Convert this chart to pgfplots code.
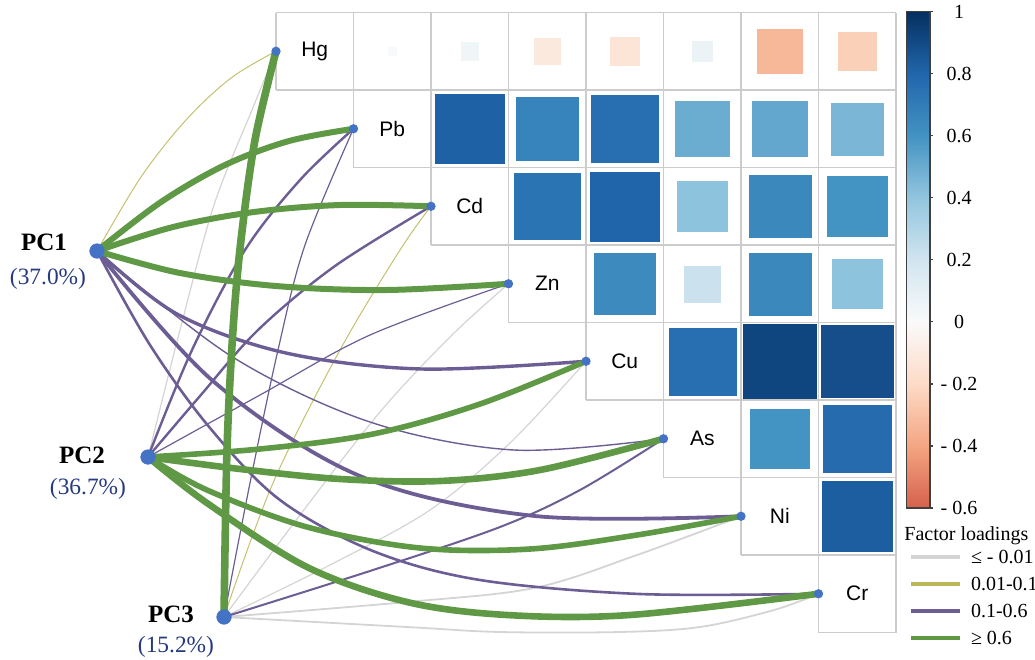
\documentclass[border=0pt]{standalone}
\usepackage{pgfplots}
\usepackage{pgfplotstable}
\pgfplotsset{compat=1.18}
\usepackage{fontspec}
\setmainfont{Liberation Serif}
\newfontfamily\arialf{Liberation Sans}

\definecolor{lgreen}{RGB}{95,153,70}
\definecolor{lpurple}{RGB}{108,94,148}
\definecolor{lgray}{RGB}{212,212,212}
\definecolor{lolive}{RGB}{196,192,110}
\definecolor{legolive}{RGB}{186,182,90}
\definecolor{nodeblue}{RGB}{68,114,196}
\definecolor{gridgray}{RGB}{204,204,204}
\definecolor{pctblue}{RGB}{38,58,128}

\pgfplotsset{colormap={rdbu}{rgb255=(214,96,77) rgb255=(244,165,130) rgb255=(253,219,199) rgb255=(250,250,250) rgb255=(209,229,240) rgb255=(146,197,222) rgb255=(67,147,195) rgb255=(33,102,172) rgb255=(5,48,97)}}

% correlation squares: cell centre (x,y) in pixels, correlation r
\pgfplotstableread{
x y r
392.25 51.25 0.01
469.75 51.25 0.05
547.25 51.25 -0.11
624.75 51.25 -0.14
702.25 51.25 0.07
779.75 51.25 -0.33
857.25 51.25 -0.24
469.75 128.75 0.82
547.25 128.75 0.67
624.75 128.75 0.76
702.25 128.75 0.50
779.75 128.75 0.52
857.25 128.75 0.46
547.25 206.25 0.74
624.75 206.25 0.81
702.25 206.25 0.41
779.75 206.25 0.65
857.25 206.25 0.60
624.75 283.75 0.64
702.25 283.75 0.22
779.75 283.75 0.65
857.25 283.75 0.41
702.25 361.25 0.76
779.75 361.25 0.92
857.25 361.25 0.89
779.75 438.75 0.60
857.25 438.75 0.78
857.25 516.25 0.83
}\squares

\pgfplotsset{
  cv/.style={smooth, tension=0.55, forget plot, line cap=round, line join=round},
  gl/.style={gridgray, line width=0.7bp, forget plot},
}

\begin{document}
\begin{tikzpicture}
\begin{axis}[
  at={(0,0)}, anchor=south west,
  scale only axis, width=517.5bp, height=330bp,
  xmin=0, xmax=1035, ymin=0, ymax=660, y dir=reverse,
  hide axis, clip=false,
  colormap name=rdbu, point meta min=-0.6, point meta max=1,
  legend image code/.code={\draw[#1, line width=2bp] (0bp,0bp) -- (24.5bp,0bp);},
  legend style={at={(axis cs:909,545)}, anchor=north west, draw=none, fill=none,
    inner sep=0pt, outer sep=0pt, row sep=1.5bp, column sep=4.5bp,
    font=\fontsize{10bp}{12bp}\selectfont,
    cells={anchor=west},
    nodes={inner sep=0pt, text height=9.4bp, text depth=2.6bp}},
  legend cell align=left,
]
% legend
\addlegendimage{lgray}
\addlegendentry{≤ - 0.01}
\addlegendimage{legolive}
\addlegendentry{0.01-0.1}
\addlegendimage{lpurple}
\addlegendentry{0.1-0.6}
\addlegendimage{lgreen}
\addlegendentry{≥ 0.6}

% grid of the triangle
\addplot[gl] coordinates {(276,12.5) (896,12.5)};
\addplot[gl] coordinates {(276,90) (896,90)};
\addplot[gl] coordinates {(353.5,167.5) (896,167.5)};
\addplot[gl] coordinates {(431,245) (896,245)};
\addplot[gl] coordinates {(508.5,322.5) (896,322.5)};
\addplot[gl] coordinates {(586,400) (896,400)};
\addplot[gl] coordinates {(663.5,477.5) (896,477.5)};
\addplot[gl] coordinates {(741,555) (896,555)};
\addplot[gl] coordinates {(818.5,632.5) (896,632.5)};
\addplot[gl] coordinates {(276,12.5) (276,90)};
\addplot[gl] coordinates {(353.5,12.5) (353.5,167.5)};
\addplot[gl] coordinates {(431,12.5) (431,245)};
\addplot[gl] coordinates {(508.5,12.5) (508.5,322.5)};
\addplot[gl] coordinates {(586,12.5) (586,400)};
\addplot[gl] coordinates {(663.5,12.5) (663.5,477.5)};
\addplot[gl] coordinates {(741,12.5) (741,555)};
\addplot[gl] coordinates {(818.5,12.5) (818.5,632.5)};
\addplot[gl] coordinates {(896,12.5) (896,632.5)};

% squares
\addplot[scatter, only marks, mark=square*, forget plot, point meta=explicit,
  scatter/use mapped color={draw=mapped color, fill=mapped color},
  mark options={line width=0.2bp},
  visualization depends on={19.2*sqrt(abs(\thisrow{r})) \as \msz},
  scatter/@pre marker code/.append style={/tikz/mark size=\msz bp}]
  table[x=x, y=y, meta=r] {\squares};

% gray links (<= -0.01)
\addplot[cv, lgray, line width=0.6bp] coordinates {(148,457) (180,330) (214,205) (252,110) (276,51.25)};
\addplot[cv, lgray, line width=0.6bp] coordinates {(224,617) (300,515) (380,412) (450,337) (508.5,283.75)};
\addplot[cv, lgray, line width=0.6bp] coordinates {(224,617) (330,565) (430,510) (510,443) (586,361.25)};
\addplot[cv, lgray, line width=0.9bp] coordinates {(224,617) (407,602) (534,588) (637,555) (741,516.25)};
\addplot[cv, lgray, line width=0.9bp] coordinates {(224,617) (407,627) (500,632) (620,632) (700,627) (774,610) (818.5,593.75)};
% olive links
\addplot[cv, lolive, line width=0.5bp] coordinates {(97,251) (141,177) (186,120) (231,78) (276,51.25)};
\addplot[cv, lolive, line width=0.5bp] coordinates {(224,617) (273,483) (340,350) (400,250) (431,206.25)};
% purple links
\addplot[cv, lpurple, line width=1.7bp] coordinates {(97,251) (177,314) (286,353) (422,369) (586,361.25)};
\addplot[cv, lpurple, line width=0.7bp] coordinates {(97,251) (231,356) (370,422) (514,450) (663.5,438.75)};
\addplot[cv, lpurple, line width=1.9bp] coordinates {(97,251) (213,381) (360,476) (535,516) (741,516.25)};
\addplot[cv, lpurple, line width=1.3bp] coordinates {(97,251) (150,345) (210,428) (280,500) (373,551) (480,580) (640,594) (818.5,593.75)};
\addplot[cv, lpurple, line width=1.2bp] coordinates {(148,457) (192,350) (245,250) (300,180) (353.5,128.75)};
\addplot[cv, lpurple, line width=1.2bp] coordinates {(148,457) (200,396) (258,330) (335,266) (431,206.25)};
\addplot[cv, lpurple, line width=0.6bp] coordinates {(148,457) (260,395) (370,335) (508.5,283.75)};
\addplot[cv, lpurple, line width=0.6bp] coordinates {(224,617) (250,483) (278,350) (305,245) (353.5,128.75)};
\addplot[cv, lpurple, line width=1.0bp] coordinates {(224,617) (373,570) (500,527) (580,490) (663.5,438.75)};
% green links
\addplot[cv, lgreen, line width=3bp] coordinates {(97,251) (161,202) (225,165) (289,141) (353.5,128.75)};
\addplot[cv, lgreen, line width=3bp] coordinates {(97,251) (173,227) (254,212) (340,205) (431,206.25)};
\addplot[cv, lgreen, line width=3bp] coordinates {(97,251) (180,273) (276,286) (386,290) (508.5,283.75)};
\addplot[cv, lgreen, line width=2.8bp] coordinates {(148,457) (260,449) (373,434) (480,404) (586,361.25)};
\addplot[cv, lgreen, line width=3.3bp] coordinates {(148,457) (240,469) (340,479) (440,481) (540,470) (663.5,438.75)};
\addplot[cv, lgreen, line width=2.8bp] coordinates {(148,457) (207,490) (307,527) (420,548) (530,549) (637,535) (741,516.25)};
\addplot[cv, lgreen, line width=3.3bp] coordinates {(148,457) (207,503) (307,567) (407,602) (507,615) (630,615) (818.5,593.75)};
\addplot[cv, lgreen, line width=3.8bp] coordinates {(224,617) (227,450) (233,330) (241,240) (255,140) (276,51.25)};

% nodes
\addplot[only marks, mark=*, mark size=2.1bp, nodeblue, forget plot] coordinates {(276,51.25) (353.5,128.75) (431,206.25) (508.5,283.75) (586,361.25) (663.5,438.75) (741,516.25) (818.5,593.75)};
\addplot[only marks, mark=*, mark size=3.6bp, nodeblue, forget plot] coordinates {(97,251) (148,457) (224,617)};

% element labels
\begin{scope}[every node/.style={font=\arialf\fontsize{10.5bp}{12bp}\selectfont}]
\node at (axis cs:314.75,51.25) {Hg};
\node at (axis cs:392.25,128.75) {Pb};
\node at (axis cs:469.75,206.25) {Cd};
\node at (axis cs:547.25,283.75) {Zn};
\node at (axis cs:624.75,361.25) {Cu};
\node at (axis cs:702.25,438.75) {As};
\node at (axis cs:779.75,516.25) {Ni};
\node at (axis cs:857.25,593.75) {Cr};
\end{scope}

% PC labels
\node[font=\bfseries\fontsize{12.5bp}{14bp}\selectfont] at (axis cs:44,242) {PC1};
\node[font=\fontsize{11.7bp}{14bp}\selectfont, text=pctblue] at (axis cs:48,279) {(37.0\%)};
\node[font=\bfseries\fontsize{12.5bp}{14bp}\selectfont] at (axis cs:82,455) {PC2};
\node[font=\fontsize{11.7bp}{14bp}\selectfont, text=pctblue] at (axis cs:88,489) {(36.7\%)};
\node[font=\bfseries\fontsize{12.5bp}{14bp}\selectfont] at (axis cs:171,614) {PC3};
\node[font=\fontsize{11.7bp}{14bp}\selectfont, text=pctblue] at (axis cs:176,647) {(15.2\%)};

\node[anchor=west, inner sep=0pt, font=\fontsize{10bp}{12bp}\selectfont] at (axis cs:904,536) {Factor loadings};
\end{axis}

% colour bar
\begin{axis}[
  at={(453.35bp,76bp)}, anchor=south west,
  scale only axis, width=11.65bp, height=248.15bp,
  xmin=0, xmax=1, ymin=-0.6, ymax=1,
  colormap name=rdbu, point meta min=-0.6, point meta max=1,
  xtick=\empty,
  ytick={-0.6,-0.4,-0.2,0,0.2,0.4,0.6,0.8,1},
  yticklabels={- 0.6,- 0.4,- 0.2,0,0.2,0.4,0.6,0.8,1},
  ytick pos=right, yticklabel pos=right,
  tick align=outside, major tick length=1.5bp,
  every tick/.style={draw=black!75, line width=0.6bp},
  axis line style={draw=black!75, line width=0.7bp},
  yticklabel style={font=\fontsize{10bp}{12bp}\selectfont, anchor=center, xshift=13bp},
  axis on top,
]
\addplot[surf, shader=interp, mesh/rows=2, point meta=y] coordinates {(0,-0.6) (1,-0.6) (0,1) (1,1)};
\end{axis}

\pgfresetboundingbox
\path (0bp,0bp) rectangle (517.5bp,330bp);
\end{tikzpicture}
\end{document}
